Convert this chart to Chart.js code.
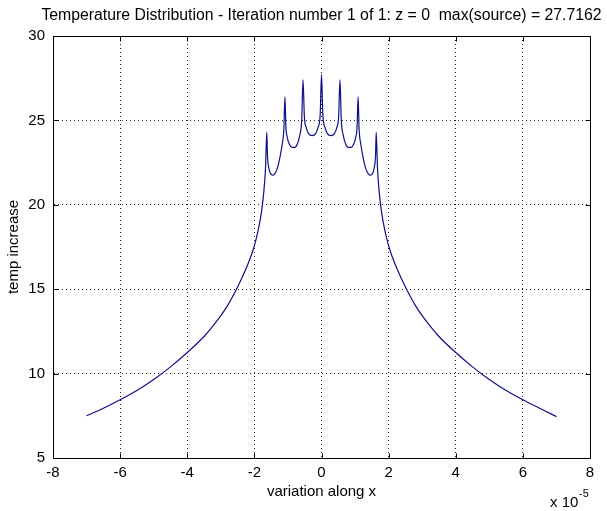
<!DOCTYPE html>
<html>
<head>
<meta charset="utf-8">
<script src="https://cdn.jsdelivr.net/npm/chart.js@4.4.1/dist/chart.umd.min.js"></script>
<style>
  html, body { margin: 0; padding: 0; background: #fff; }
  #wrap { width: 607px; height: 511px; }
</style>
</head>
<body>
<div id="wrap"><canvas id="tempChart" width="607" height="511"></canvas></div>
<script>
// position along x (units of 1e-5) and temperature increase
const xPositions = [
  -7.0, -6.5, -6.0, -5.5, -5.0, -4.5, -4.0, -3.5, -3.25, -3.0, -2.8, -2.65, -2.4, -2.2, -2.05, -1.95, -1.85, -1.78, -1.72, -1.67,
  -1.63, -1.61, -1.58, -1.53, -1.46, -1.39, -1.31, -1.23, -1.17, -1.12,
  -1.09, -1.06, -1.02, -0.96, -0.88, -0.80, -0.72, -0.65, -0.59,
  -0.55, -0.51, -0.46, -0.38, -0.28, -0.18, -0.10, -0.04,
  0,
  0.04, 0.10, 0.18, 0.28, 0.38, 0.46, 0.51, 0.55,
  0.59, 0.65, 0.72, 0.80, 0.88, 0.96, 1.02, 1.06, 1.09,
  1.12, 1.17, 1.23, 1.31, 1.39, 1.46, 1.53, 1.58, 1.61, 1.63,
  1.67, 1.72, 1.78, 1.85, 1.95, 2.05, 2.2, 2.4, 2.65, 2.8, 3.0, 3.25, 3.5, 4.0, 4.5, 5.0, 5.5, 6.0, 6.5, 7.0
];
const tempIncrease = [
  7.5, 7.95, 8.45, 9.0, 9.65, 10.4, 11.25, 12.2, 12.78, 13.43, 14.03, 14.55, 15.55, 16.45, 17.25, 17.95, 18.85, 19.7, 20.75, 22.1,
  24.3, 22.9, 22.3, 21.9, 21.75, 21.85, 22.2, 22.9, 23.6, 24.5,
  26.4, 24.6, 24.0, 23.6, 23.4, 23.4, 23.6, 24.1, 25.0,
  27.4, 25.2, 24.6, 24.2, 24.1, 24.2, 24.6, 25.3,
  27.72,
  25.3, 24.6, 24.2, 24.1, 24.2, 24.6, 25.2, 27.4,
  25.0, 24.1, 23.6, 23.4, 23.4, 23.6, 24.0, 24.6, 26.4,
  24.5, 23.6, 22.9, 22.2, 21.85, 21.75, 21.9, 22.3, 22.9, 24.3,
  22.1, 20.75, 19.7, 18.85, 17.95, 17.25, 16.45, 15.55, 14.55, 14.03, 13.43, 12.78, 12.2, 11.25, 10.4, 9.65, 9.0, 8.45, 7.95, 7.45
];
const xTicks = [-8, -6, -4, -2, 0, 2, 4, 6, 8];
const yTicks = [5, 10, 15, 20, 25, 30];

const titleText = 'Temperature Distribution - Iteration number 1 of 1: z = 0  max(source) = 27.7162';
const fontFam = '"Liberation Sans", Arial, sans-serif';

// MATLAB style box, inward ticks, title and the x 10^-5 multiplier
const matlabBox = {
  id: 'matlabBox',
  afterDraw(chart) {
    const { ctx, chartArea: a, scales } = chart;
    const L = Math.round(a.left) + 0.5, R = Math.round(a.right) + 0.5;
    const T = Math.round(a.top) + 0.5, B = Math.round(a.bottom) + 0.5;
    ctx.save();
    ctx.strokeStyle = '#000';
    ctx.lineWidth = 1;
    ctx.setLineDash([]);
    ctx.beginPath();
    ctx.rect(L, T, R - L, B - T);
    xTicks.forEach(v => {
      const px = Math.round(scales.x.getPixelForValue(v)) + 0.5;
      ctx.moveTo(px, B); ctx.lineTo(px, B - 5);
      ctx.moveTo(px, T); ctx.lineTo(px, T + 5);
    });
    yTicks.forEach(v => {
      const py = Math.round(scales.y.getPixelForValue(v)) + 0.5;
      ctx.moveTo(L, py); ctx.lineTo(L + 5, py);
      ctx.moveTo(R, py); ctx.lineTo(R - 5, py);
    });
    ctx.stroke();

    ctx.fillStyle = '#000';
    ctx.textBaseline = 'alphabetic';
    ctx.textAlign = 'center';
    ctx.font = '15.8px ' + fontFam;
    ctx.fillText(titleText, (a.left + a.right) / 2, 20);

    ctx.textAlign = 'left';
    ctx.font = '15px ' + fontFam;
    ctx.fillText('x 10', 550, 507);
    ctx.font = '11px ' + fontFam;
    ctx.fillText('-5', 579, 497);
    ctx.restore();
  }
};

const points = xPositions.map((x, i) => ({ x: x, y: tempIncrease[i] }));

new Chart(document.getElementById('tempChart'), {
  type: 'line',
  data: {
    datasets: [{
      data: points,
      borderColor: '#10108a',
      borderWidth: 1.2,
      pointRadius: 0,
      fill: false,
      cubicInterpolationMode: 'monotone'
    }]
  },
  options: {
    responsive: false,
    animation: false,
    devicePixelRatio: 1,
    layout: { padding: { left: 0, right: 17, top: 36, bottom: 0 } },
    plugins: { legend: { display: false }, tooltip: { enabled: false }, title: { display: false } },
    scales: {
      x: {
        type: 'linear',
        min: -8, max: 8,
        afterBuildTicks: s => { s.ticks = xTicks.map(v => ({ value: v })); },
        afterFit: s => { s.height = 53; },
        grid: { color: '#222', lineWidth: 1, drawTicks: false },
        border: { display: true, color: '#000', dash: [1, 3] },
        ticks: { color: '#000', padding: 6, font: { family: fontFam, size: 15 }, maxRotation: 0 },
        title: { display: true, text: 'variation along x', color: '#000', font: { family: fontFam, size: 15 }, padding: { top: 0, bottom: 10 } }
      },
      y: {
        type: 'linear',
        min: 5, max: 30,
        afterBuildTicks: s => { s.ticks = yTicks.map(v => ({ value: v })); },
        afterFit: s => { s.width = 53; },
        grid: { color: '#222', lineWidth: 1, drawTicks: false },
        border: { display: true, color: '#000', dash: [1, 3] },
        ticks: { color: '#000', padding: 8, font: { family: fontFam, size: 15 } },
        title: { display: true, text: 'temp increase', color: '#000', font: { family: fontFam, size: 15 }, padding: { top: 5, bottom: 0 } }
      }
    }
  },
  plugins: [matlabBox]
});
</script>
</body>
</html>
